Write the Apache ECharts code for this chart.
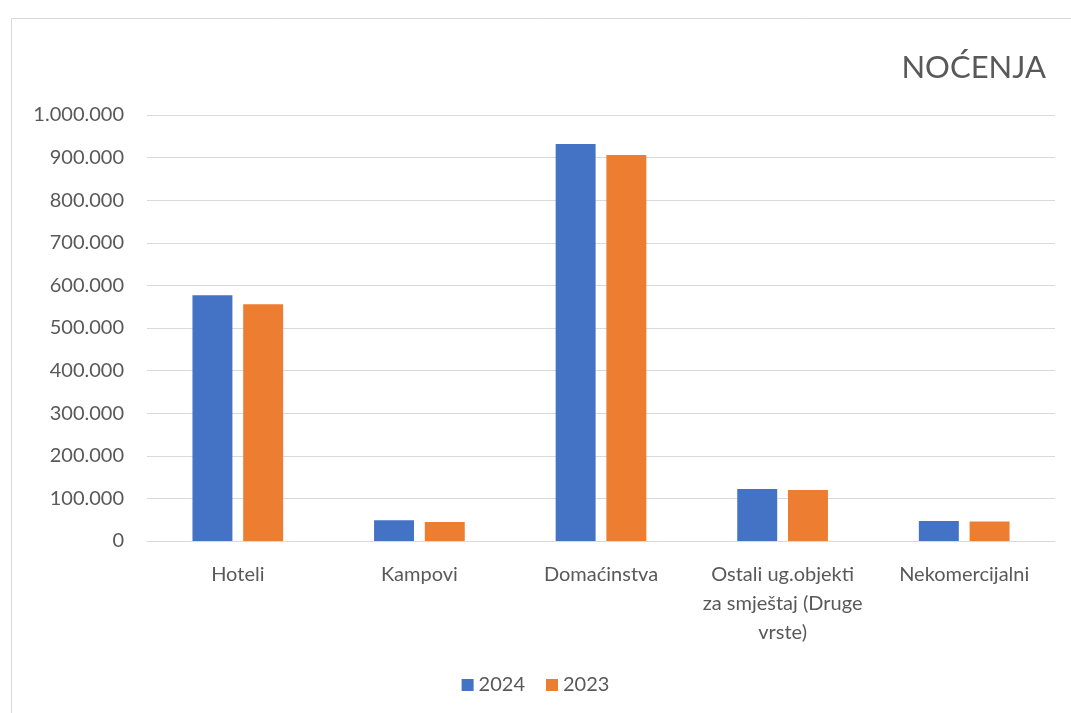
<!DOCTYPE html>
<html>
<head>
<meta charset="utf-8">
<script src="https://cdn.jsdelivr.net/npm/echarts@6/dist/echarts.min.js"></script>
<style>html,body{margin:0;padding:0;background:#fff;}#c{width:1071px;height:713px;}</style>
</head>
<body>
<div id="c"></div>
<script>
const categories = ['Hoteli', 'Kampovi', 'Domaćinstva', 'Ostali ug.objekti\nza smještaj (Druge\nvrste)', 'Nekomercijalni'];
const values2024 = [577000, 48600, 932000, 122000, 47000];
const values2023 = [556000, 44500, 906000, 120000, 46000];
const seriesNames = ['2024', '2023'];
const titleText = 'NOĆENJA';

const chart = echarts.init(document.getElementById('c'), null, {renderer: 'canvas'});
const fmt = v => v === 0 ? '0' : String(v).replace(/\B(?=(\d{3})+(?!\d))/g, '.');
const font = 'Lato';
chart.setOption({
  animation: false,
  backgroundColor: '#fff',
  graphic: [{
    type: 'rect', left: 9, top: 16, silent: true,
    shape: {width: 1080, height: 720},
    style: {fill: 'none', stroke: '#d9d9d9', lineWidth: 1}
  }],
  title: {
    text: titleText, right: 20, top: 47,
    textStyle: {fontFamily: font, fontSize: 31, fontWeight: 'normal', color: '#595959'}
  },
  legend: {
    data: seriesNames, bottom: 13, left: 'center',
    itemWidth: 12, itemHeight: 12, itemGap: 21, icon: 'rect',
    textStyle: {fontFamily: font, fontSize: 20, color: '#595959'}
  },
  grid: {left: 147, right: 16, top: 115, bottom: 172},
  xAxis: {
    type: 'category', data: categories,
    axisLine: {lineStyle: {color: '#d9d9d9', width: 1}},
    axisTick: {show: false},
    axisLabel: {fontFamily: font, fontSize: 20, color: '#595959', margin: 19, lineHeight: 29, interval: 0}
  },
  yAxis: {
    type: 'value', min: 0, max: 1000000, interval: 100000,
    axisLine: {show: false}, axisTick: {show: false},
    splitLine: {lineStyle: {color: '#d9d9d9', width: 1}},
    axisLabel: {fontFamily: font, fontSize: 20, color: '#595959', margin: 23, formatter: fmt}
  },
  series: [
    {name: seriesNames[0], type: 'bar', data: values2024, barWidth: '22%', barGap: '27%', itemStyle: {color: '#4472c4'}},
    {name: seriesNames[1], type: 'bar', data: values2023, barWidth: '22%', barGap: '27%', itemStyle: {color: '#ed7d31'}}
  ]
});
</script>
</body>
</html>
